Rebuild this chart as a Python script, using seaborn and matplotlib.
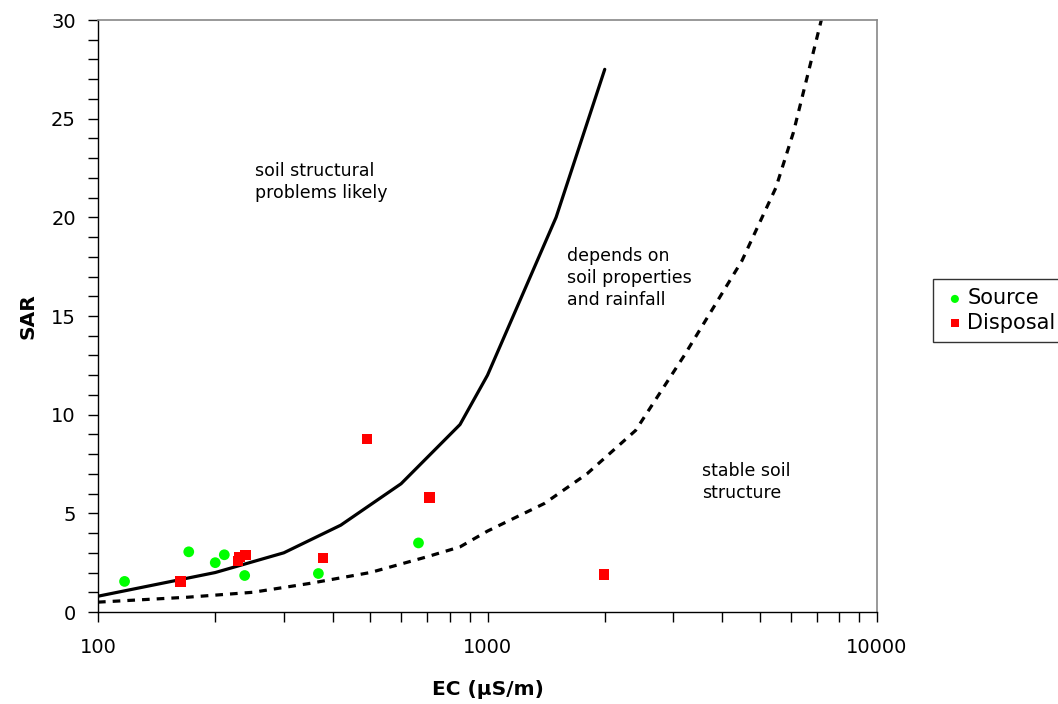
import matplotlib
matplotlib.use('Agg')
import matplotlib.pyplot as plt
import seaborn as sns

# Sample points (EC in uS/m, SAR)
source_ec = [117, 171, 200, 211, 238, 368, 665]
source_sar = [1.55, 3.05, 2.5, 2.9, 1.85, 1.95, 3.5]
disposal_ec = [163, 229, 231, 239, 378, 490, 710, 1995]
disposal_sar = [1.55, 2.6, 2.8, 2.9, 2.75, 8.75, 5.8, 1.9]

# Threshold curves
upper_ec = [100, 200, 300, 420, 600, 850, 1000, 1500, 2000]
upper_sar = [0.8, 2.0, 3.0, 4.4, 6.5, 9.5, 12, 20, 27.5]
lower_ec = [100, 170, 250, 350, 500, 700, 850, 1000, 1400, 1800, 2400, 3200, 4500, 5500, 6100, 7300]
lower_sar = [0.5, 0.75, 1.0, 1.45, 2.0, 2.8, 3.3, 4.1, 5.5, 7.0, 9.2, 13, 17.8, 21.5, 24.3, 30.5]

sns.set_style('white')
plt.rcParams['font.family'] = ['DejaVu Sans']
plt.rcParams['text.color'] = 'black'
plt.rcParams['axes.labelcolor'] = 'black'
plt.rcParams['xtick.color'] = 'black'
plt.rcParams['ytick.color'] = 'black'

fig = plt.figure(figsize=(10.58, 7.04), dpi=100)
ax = fig.add_axes([98 / 1058, 92 / 704, 779 / 1058, 592 / 704])

sns.lineplot(x=upper_ec, y=upper_sar, color='black', lw=2.3, ax=ax, legend=False)
sns.lineplot(x=lower_ec, y=lower_sar, color='black', lw=2.3, ax=ax, legend=False,
             linestyle=(0, (2.4, 2.2)))
sns.scatterplot(x=source_ec, y=source_sar, color='#00FF00', marker='o', s=60,
                edgecolor='none', label='Source', ax=ax, zorder=3)
sns.scatterplot(x=disposal_ec, y=disposal_sar, color='#FF0000', marker='s', s=55,
                edgecolor='none', label='Disposal', ax=ax, zorder=3)

ax.set_xscale('log')
ax.set_xlim(100, 10000)
ax.set_ylim(0, 30)
ax.set_yticks(range(0, 31, 5))
ax.set_yticks(range(0, 31), minor=True)
ax.set_xticks([100, 1000, 10000])
ax.set_xticklabels(['100', '1000', '10000'])
ax.tick_params(axis='both', which='both', direction='out', length=7, width=1,
               color='black', labelcolor='black', labelsize=14, left=True, bottom=True)
ax.tick_params(axis='x', which='minor', labelbottom=False)
ax.tick_params(axis='x', pad=12)
ax.tick_params(axis='y', pad=9)

for side in ['left', 'bottom']:
    ax.spines[side].set_color('black')
    ax.spines[side].set_linewidth(1)
for side in ['top', 'right']:
    ax.spines[side].set_color('#888888')
    ax.spines[side].set_linewidth(1.2)

ax.set_xlabel('EC (µS/m)', fontsize=14.5, fontweight='bold', labelpad=16)
ax.set_ylabel('SAR', fontsize=14.5, fontweight='bold', labelpad=10)

ax.text(253, 22.8, 'soil structural\nproblems likely', fontsize=12.5, va='top', ha='left',
        linespacing=1.3)
ax.text(1600, 18.5, 'depends on\nsoil properties\nand rainfall', fontsize=12.5, va='top',
        ha='left', linespacing=1.3)
ax.text(3550, 7.6, 'stable soil\nstructure', fontsize=12.5, va='top', ha='left',
        linespacing=1.3)

ax.legend(loc='upper left', bbox_to_anchor=(933 / 1058, 1 - 279 / 704),
          bbox_transform=fig.transFigure, fontsize=15, frameon=True, fancybox=False,
          edgecolor='black', borderaxespad=0, handletextpad=0.0, borderpad=0.45,
          labelspacing=0.2, markerscale=0.75, handlelength=1.2)

fig.savefig('out.png', dpi=100)
